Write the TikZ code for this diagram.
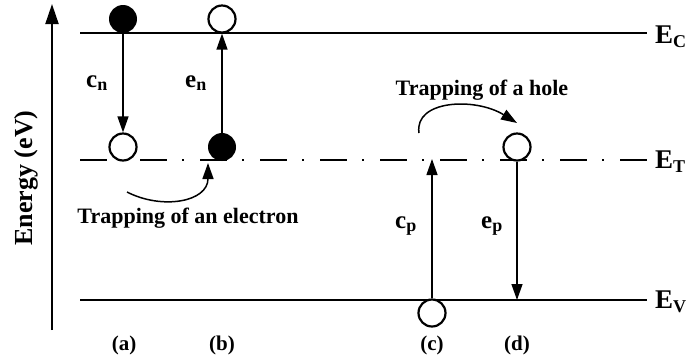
\documentclass[tikz,border=0pt]{standalone}
\usepackage{fontspec}
\setmainfont{Liberation Serif}
\usetikzlibrary{arrows.meta}
\tikzset{
  level/.style={line width=2.8pt},
  traplevel/.style={line width=2.8pt, dash pattern=on 27pt off 15pt on 2pt off 16pt},
  opendot/.style={circle, draw, line width=2.2pt, fill=white, minimum size=27pt, inner sep=0pt},
  fulldot/.style={circle, fill=black, minimum size=28pt, inner sep=0pt},
  trans/.style={line width=1.3pt, -{Triangle[length=16pt,width=11pt]}},
  curvy/.style={line width=1.5pt, -{Triangle[length=16pt,width=11pt]}},
  lbl/.style={font=\fontsize{22}{24}\selectfont\bfseries, inner sep=0pt},
  rate/.style={font=\fontsize{25}{27}\selectfont\bfseries, inner sep=0pt, anchor=base west},
  band/.style={font=\fontsize{27}{29}\selectfont\bfseries, inner sep=0pt, anchor=base west},
  case/.style={font=\fontsize{21}{23}\selectfont\bfseries, inner sep=0pt, anchor=base}
}
\newcommand\subsc[2]{\raisebox{-#1}{\fontsize{18}{18}\selectfont #2}}
\begin{document}
\begin{tikzpicture}[x=1pt,y=-1pt]
\useasboundingbox (0,0) rectangle (686,360);
% axis
\coordinate (axB) at (52,330);
\coordinate (axT) at (52,4);
\draw[line width=2pt, -{Triangle[length=20pt,width=13pt]}] (axB) -- (axT);
\node[lbl, font=\fontsize{26}{28}\selectfont\bfseries, rotate=90] (energy) at (26,178) {Energy (eV)};
% levels
\coordinate (ecL) at (80,33);  \coordinate (ecR) at (647,33);
\coordinate (etL) at (80,160); \coordinate (etR) at (647,160);
\coordinate (evL) at (80,300); \coordinate (evR) at (647,300);
\draw[level] (ecL) -- (ecR);
\draw[traplevel] (etL) -- (etR);
\draw[level] (evL) -- (evR);
\node[band] (EC) at (655,43) {E\subsc{4pt}{C}};
\node[band] (ET) at (655,168) {E\subsc{4pt}{T}};
\node[band] (EV) at (655,308) {E\subsc{4pt}{V}};
% (a)
\node[fulldot] (a1) at (123,19) {};
\node[opendot] (a2) at (123,147) {};
\draw[trans] (a1.south) -- (a2.north);
\node[rate] (cn) at (86,87) {c\subsc{3pt}{n}};
% (b)
\node[opendot] (b1) at (222,19) {};
\node[fulldot] (b2) at (222,147) {};
\draw[trans] (b2.north) -- (b1.south);
\node[rate] (en) at (185,87) {e\subsc{3pt}{n}};
% (c)
\node[opendot] (c1) at (432,313) {};
\coordinate (cT) at (432,159);
\draw[trans] (c1.north) -- (cT);
\node[rate] (cp) at (395,228) {c\subsc{3pt}{p}};
% (d)
\node[opendot] (d1) at (517,147) {};
\coordinate (dV) at (517,300);
\draw[trans] (d1.south) -- (dV);
\node[rate] (ep) at (481,228) {e\subsc{3pt}{p}};
% trapping arrows
\coordinate (eS) at (127,192);
\coordinate (eE) at (208,163);
\draw[curvy] (eS) .. controls (162,210) and (208,202) .. (eE);
\node[lbl, anchor=base] (te) at (188,223) {Trapping of an electron};
\coordinate (hS) at (419,133);
\coordinate (hE) at (517,123);
\draw[curvy] (hS) .. controls (414,100) and (475,97) .. (hE);
\node[lbl, anchor=base] (th) at (482,95) {Trapping of a hole};
% case labels
\node[case] (la) at (124,350) {(a)};
\node[case] (lb) at (222,350) {(b)};
\node[case] (lc) at (432,350) {(c)};
\node[case] (ld) at (517,350) {(d)};
\end{tikzpicture}
\end{document}
